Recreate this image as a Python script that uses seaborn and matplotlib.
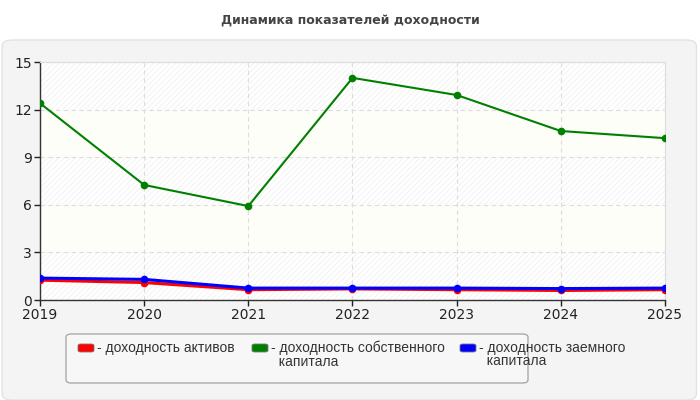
"""
Profitability dynamics chart (line chart with three series)
"""

import matplotlib.pyplot as plt
import seaborn as sns
import pandas as pd
from matplotlib.patches import FancyBboxPatch

years = [2019, 2020, 2021, 2022, 2023, 2024, 2025]
assets_return = [1.25, 1.1, 0.65, 0.7, 0.65, 0.6, 0.65]
equity_return = [12.4, 7.25, 5.92, 14.0, 12.92, 10.65, 10.2]
debt_return = [1.38, 1.3, 0.75, 0.75, 0.75, 0.72, 0.75]

series_names = [
    "- доходность активов",
    "- доходность собственного\n  капитала",
    "- доходность заемного\n  капитала",
]
colors = ["#ff0000", "#008000", "#0000ff"]
widths = [2.2, 1.5, 2.2]
y_ticks = [0, 3, 6, 9, 12, 15]


def main():
    sns.set_theme(style="white")
    plt.rcParams["font.family"] = ["DejaVu Sans"]
    plt.rcParams["hatch.linewidth"] = 0.6

    df = pd.DataFrame({"year": years,
                       series_names[0]: assets_return,
                       series_names[1]: equity_return,
                       series_names[2]: debt_return})
    df_long = df.melt(id_vars="year", var_name="series", value_name="value")

    fig = plt.figure(figsize=(7, 4), dpi=100)
    fig.patch.set_facecolor("white")

    # rounded grey panel behind the chart
    panel = FancyBboxPatch((0.003, 0.0), 0.992, 0.9, boxstyle="round,pad=0,rounding_size=0.015",
                           transform=fig.transFigure, facecolor="#f4f4f4",
                           edgecolor="#e2e2e2", linewidth=1, zorder=-5)
    fig.patches.append(panel)

    fig.text(0.5, 0.95, "Динамика показателей доходности", ha="center", va="center",
             fontsize=9, fontweight="bold", color="#444444")

    ax = fig.add_axes([40 / 700, 0.25, 625 / 700, 0.595])
    ax.set_zorder(2)
    ax.set_facecolor("white")

    # alternating bands with light hatching
    for i in range(5):
        lo, hi = y_ticks[i], y_ticks[i + 1]
        if i % 2 == 0:
            ax.axhspan(lo, hi, facecolor="white", edgecolor="#f1f1f1", hatch="//////",
                       linewidth=0, zorder=0)
        else:
            ax.axhspan(lo, hi, facecolor="#fdfef8", linewidth=0, zorder=0)

    for name, color, lw in zip(series_names, colors, widths):
        sub = df_long[df_long["series"] == name]
        sns.lineplot(data=sub, x="year", y="value", ax=ax, color=color, linewidth=lw,
                     marker="o", markersize=5.5, markeredgewidth=0, zorder=3)

    ax.set_xlim(years[0], years[-1])
    ax.set_ylim(0, 15)
    ax.set_xticks(years)
    ax.set_yticks(y_ticks)
    ax.set_xlabel("")
    ax.set_ylabel("")
    ax.tick_params(axis="both", labelsize=10, colors="#222222", length=4, width=1,
                   direction="out", bottom=True, left=True, pad=2)
    ax.grid(True, color="#dddddd", linestyle=(0, (4, 3)), linewidth=0.8)
    ax.set_axisbelow(True)
    for side in ["top", "right"]:
        ax.spines[side].set_color("#dddddd")
        ax.spines[side].set_linewidth(0.8)
    for side in ["left", "bottom"]:
        ax.spines[side].set_color("#333333")
        ax.spines[side].set_linewidth(1)

    # legend box
    box = FancyBboxPatch((66 / 700, 1 - 383 / 400), 462 / 700, 49 / 400,
                         boxstyle="round,pad=0,rounding_size=0.008",
                         transform=fig.transFigure, facecolor="#f7f7f7",
                         edgecolor="#aaaaaa", linewidth=1, zorder=1)
    fig.patches.append(box)
    legend_x = [78, 252, 460]
    for x, name, color in zip(legend_x, series_names, colors):
        fig.patches.append(FancyBboxPatch((x / 700, 1 - 352 / 400), 16 / 700, 8 / 400,
                                          boxstyle="round,pad=0,rounding_size=0.004",
                                          transform=fig.transFigure, facecolor=color,
                                          edgecolor="#777777", linewidth=0.6, zorder=2))
        fig.text((x + 19) / 700, 1 - 341 / 400, name, ha="left", va="top", fontsize=10,
                 color="#333333", family="Liberation Sans", linespacing=0.95)

    plt.savefig("out.png", dpi=100)
    plt.close()


if __name__ == "__main__":
    main()
